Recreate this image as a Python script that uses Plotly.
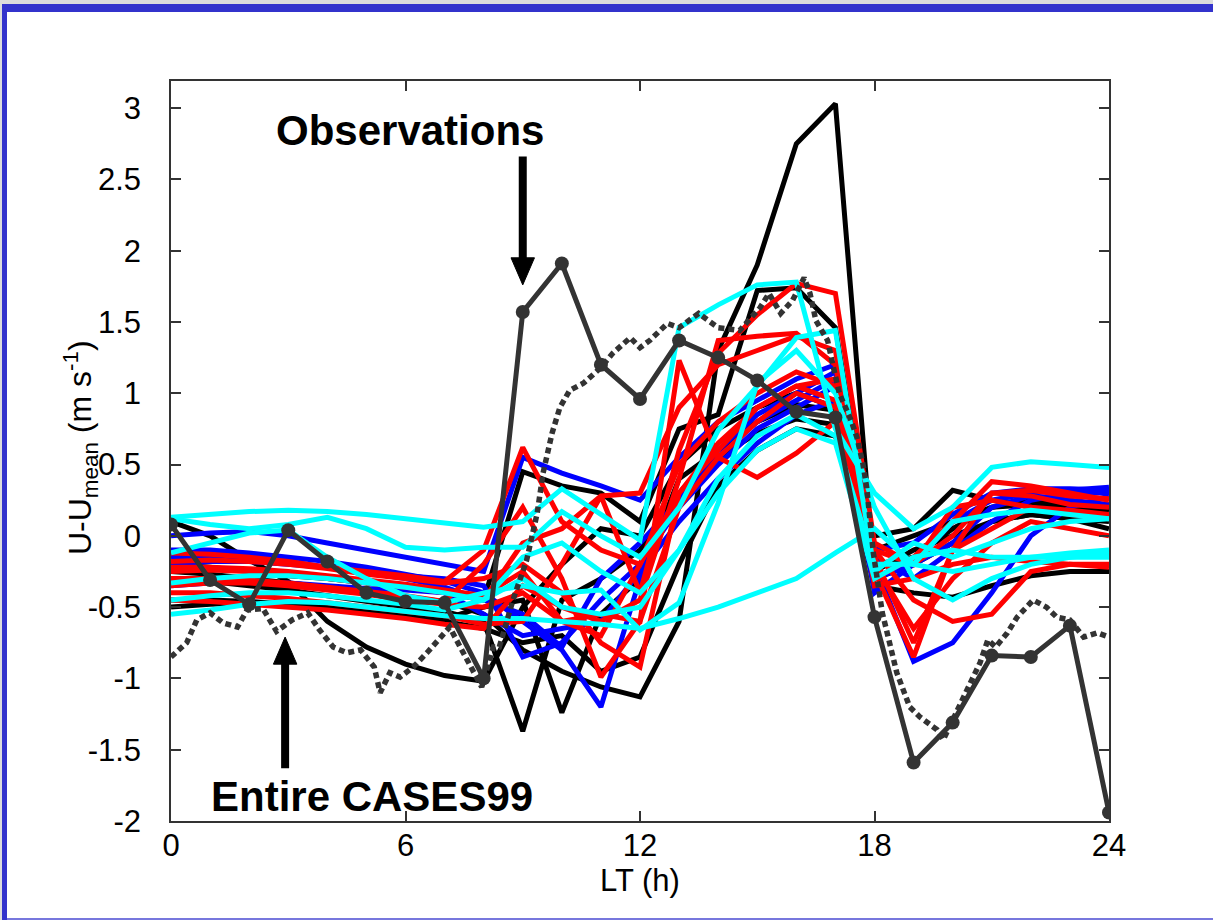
import plotly.graph_objects as go

# Local time (h), hourly
hours = list(range(25))

# Model runs: U - U_mean (m/s), hourly
black_runs = [
    [-0.25,-0.27,-0.30,-0.33,-0.36,-0.40,-0.43,-0.46,-0.55,-0.80,-0.95,-1.06,-1.13,-0.60,1.30,1.90,2.75,3.03,-0.30,-0.20,-0.05,0.10,0.15,0.12,0.05],
    [0.10,0.00,-0.17,-0.32,-0.60,-0.78,-0.90,-0.98,-1.02,-0.50,-0.20,0.05,0.00,0.50,0.75,0.90,1.00,0.90,-0.10,0.00,0.10,0.20,0.22,0.20,0.18],
    [-0.20,-0.22,-0.25,-0.28,-0.30,-0.33,-0.36,-0.40,-0.45,0.45,0.35,0.30,0.10,0.75,0.85,1.72,1.74,1.46,-0.20,-0.15,0.05,0.20,0.25,0.22,0.20],
    [-0.30,-0.32,-0.35,-0.38,-0.42,-0.46,-0.50,-0.53,-0.60,-1.37,-0.45,-0.30,-0.10,0.30,0.55,0.72,0.82,0.78,-0.35,-0.40,-0.43,-0.35,-0.28,-0.25,-0.25],
    [-0.45,-0.45,-0.46,-0.48,-0.50,-0.52,-0.55,-0.58,-0.50,-0.45,-1.24,-0.55,-0.30,0.40,0.60,0.80,0.92,0.88,0.00,0.05,0.32,0.25,0.22,0.20,0.15],
    [-0.50,-0.48,-0.47,-0.48,-0.50,-0.53,-0.56,-0.60,-0.65,-0.75,-0.70,-0.95,-0.85,-0.20,0.35,0.60,0.75,0.70,-0.25,-0.10,0.00,0.10,0.15,0.12,0.10],
]
blue_runs = [
    [0.00,0.02,0.03,0.00,-0.05,-0.10,-0.15,-0.20,-0.25,0.55,0.44,0.35,0.25,0.55,0.80,0.95,1.10,1.20,-0.10,-0.05,0.15,0.30,0.33,0.33,0.32],
    [-0.10,-0.10,-0.12,-0.15,-0.18,-0.22,-0.27,-0.32,-0.40,-0.60,-0.80,-1.20,-0.30,0.30,0.60,0.85,1.00,1.15,-0.20,-0.88,-0.75,-0.40,0.00,0.20,0.28],
    [-0.20,-0.18,-0.18,-0.20,-0.22,-0.25,-0.28,-0.30,-0.35,-0.85,-0.75,-0.45,-0.20,0.20,0.50,0.75,0.90,1.05,-0.15,-0.30,-0.10,0.10,0.25,0.30,0.30],
    [-0.35,-0.33,-0.32,-0.33,-0.35,-0.37,-0.38,-0.40,-0.55,-0.70,-0.65,-0.60,-0.25,0.10,0.40,0.65,0.85,0.95,-0.30,-0.20,-0.05,0.20,0.28,0.25,0.22],
    [-0.15,-0.14,-0.15,-0.18,-0.22,-0.26,-0.30,-0.36,-0.45,-0.55,-0.78,-0.30,-0.05,0.25,0.55,0.80,0.95,1.10,-0.40,-0.20,0.10,0.25,0.30,0.32,0.34],
]
red_runs = [
    [-0.12,-0.13,-0.15,-0.18,-0.22,-0.25,-0.28,-0.32,-0.10,0.62,0.10,-0.10,-0.20,0.50,0.80,1.00,1.15,1.05,-0.25,-0.85,-0.10,0.30,0.28,0.22,0.20],
    [-0.18,-0.17,-0.18,-0.20,-0.23,-0.27,-0.30,-0.33,-0.30,-0.20,-0.40,-0.75,-0.92,0.30,0.60,0.90,1.05,1.10,-0.10,-0.45,-0.60,-0.55,-0.25,-0.20,-0.20],
    [-0.25,-0.24,-0.25,-0.27,-0.30,-0.33,-0.36,-0.40,-0.45,-0.05,0.05,0.28,0.30,0.90,1.20,1.30,1.40,1.30,-0.30,-0.15,0.10,0.38,0.35,0.30,0.25],
    [-0.35,-0.33,-0.33,-0.35,-0.38,-0.41,-0.45,-0.48,-0.50,-0.40,-0.60,-0.55,-0.60,1.23,0.55,0.41,0.58,0.80,-0.20,-0.65,-0.30,-0.05,0.10,0.05,0.00],
    [-0.40,-0.40,-0.42,-0.44,-0.47,-0.50,-0.53,-0.56,-0.62,-0.60,-0.20,0.28,-0.40,0.60,1.28,1.55,1.77,1.70,-0.05,-0.20,0.20,0.25,0.20,0.15,0.12],
    [-0.45,-0.46,-0.48,-0.50,-0.52,-0.55,-0.58,-0.62,-0.65,-0.35,-0.50,-0.60,-0.45,0.40,1.37,1.40,1.42,1.20,-0.35,-0.30,-0.20,-0.15,-0.18,-0.20,-0.22],
    [-0.30,-0.30,-0.31,-0.33,-0.36,-0.39,-0.42,-0.46,-0.20,0.20,-0.30,-0.99,-0.60,0.20,0.55,0.80,1.00,0.90,-0.15,-0.75,-0.10,0.05,0.20,0.18,0.15],
    [-0.22,-0.22,-0.23,-0.25,-0.28,-0.31,-0.34,-0.38,-0.42,-0.25,-0.60,-0.70,-0.20,0.30,0.65,0.90,1.05,0.95,-0.10,-0.20,0.00,0.30,0.32,0.28,0.26],
]
cyan_runs = [
    [0.13,0.15,0.17,0.18,0.17,0.15,0.12,0.09,0.06,0.10,0.33,0.15,-0.03,1.46,1.62,1.76,1.78,0.75,0.30,0.05,0.20,0.48,0.52,0.50,0.48],
    [0.12,0.08,0.05,0.08,0.13,0.05,-0.08,-0.10,-0.08,-0.08,0.17,0.00,-0.15,0.20,0.74,1.05,1.39,1.44,-0.25,-0.05,-0.15,-0.05,0.05,0.10,0.12],
    [-0.12,-0.05,0.02,0.04,-0.15,-0.30,-0.42,-0.47,-0.40,-0.35,-0.40,-0.38,-0.66,-0.47,0.23,1.07,1.30,1.00,0.20,-0.30,-0.45,-0.30,-0.20,-0.15,-0.12],
    [-0.33,-0.30,-0.28,-0.28,-0.30,-0.33,-0.36,-0.40,-0.45,-0.15,-0.05,-0.25,-0.40,-0.10,0.40,0.70,0.85,0.70,-0.20,-0.20,0.10,0.15,0.18,0.15,0.12],
    [-0.55,-0.52,-0.48,-0.46,-0.47,-0.50,-0.53,-0.56,-0.58,-0.58,-0.60,-0.62,-0.65,-0.58,-0.50,-0.40,-0.30,-0.12,0.05,-0.20,-0.25,-0.20,-0.15,-0.12,-0.10],
    [-0.45,-0.42,-0.40,-0.40,-0.42,-0.45,-0.48,-0.52,-0.45,-0.30,-0.50,-0.55,-0.50,-0.10,0.30,0.60,0.75,0.65,-0.30,-0.15,-0.10,-0.15,-0.15,-0.15,-0.15],
]

# Observations (hourly)
obs = [0.08,-0.31,-0.48,0.04,-0.18,-0.40,-0.46,-0.47,-1.00,1.57,1.91,1.20,0.96,1.37,1.25,1.09,0.87,0.83,-0.57,-1.59,-1.31,-0.84,-0.85,-0.63,-1.94]

# Entire CASES99 composite (high resolution)
cases_t = [0.0,0.4,0.66,1.0,1.33,1.7,1.95,2.35,2.7,3.1,3.5,3.8,4.15,4.5,4.85,5.2,5.35,5.6,5.86,6.2,
           6.55,6.9,7.13,7.4,7.73,7.95,8.25,8.4,8.75,9.1,9.37,9.52,9.75,9.95,10.2,10.55,11.0,11.3,11.75,12.0,
           12.25,12.7,13.0,13.5,14.0,14.55,15.07,15.3,15.6,15.9,16.2,16.35,16.5,16.8,16.95,17.1,17.4,17.55,17.7,17.8,
           17.97,18.2,18.57,18.9,19.16,19.6,19.76,20.0,20.36,20.7,20.9,21.1,21.4,21.65,22.06,22.4,22.66,23.0,23.35,23.7,24.0]
cases_u = [-0.85,-0.75,-0.59,-0.54,-0.61,-0.64,-0.52,-0.51,-0.67,-0.59,-0.54,-0.66,-0.78,-0.82,-0.80,-0.92,-1.10,-0.96,-0.99,-0.92,
           -0.82,-0.71,-0.64,-0.78,-0.96,-1.06,-0.78,-0.78,-0.45,-0.17,0.16,0.44,0.72,0.90,1.02,1.07,1.18,1.28,1.39,1.32,
           1.37,1.49,1.46,1.56,1.46,1.44,1.60,1.70,1.56,1.65,1.81,1.70,1.51,1.37,1.18,1.00,0.81,0.69,0.51,0.34,
           -0.12,-0.54,-0.96,-1.20,-1.27,-1.36,-1.43,-1.29,-1.10,-0.89,-0.73,-0.78,-0.68,-0.57,-0.45,-0.50,-0.57,-0.59,-0.71,-0.68,-0.71]

x_ticks = [0, 6, 12, 18, 24]
y_ticks = [-2, -1.5, -1, -0.5, 0, 0.5, 1, 1.5, 2, 2.5, 3]
y_tick_text = ["-2", "-1.5", "-1", "-0.5", "0", "0.5", "1", "1.5", "2", "2.5", "3"]

FONT = "Liberation Sans, Arial, Helvetica, sans-serif"
OBS_COLOR = "#333333"

fig = go.Figure()

for runs, color in [(black_runs, "#000000"), (blue_runs, "#0000ff"),
                    (red_runs, "#ff0000"), (cyan_runs, "#00ffff")]:
    for r in runs:
        fig.add_trace(go.Scatter(x=hours, y=r, mode="lines",
                                 line=dict(color=color, width=5),
                                 showlegend=False, hoverinfo="skip"))

fig.add_trace(go.Scatter(x=cases_t, y=cases_u, mode="lines",
                         line=dict(color=OBS_COLOR, width=5.5, dash="6px,4px"),
                         showlegend=False))
fig.add_trace(go.Scatter(x=hours, y=obs, mode="lines+markers",
                         line=dict(color=OBS_COLOR, width=5),
                         marker=dict(color=OBS_COLOR, size=14, symbol="circle"),
                         showlegend=False))

# Arrows pointing at the two observation curves
arrow_shapes = [
    dict(type="line", x0=9.0, x1=9.0, y0=2.66, y1=1.92,
         line=dict(color="black", width=8)),
    dict(type="path", path="M 8.70,1.95 L 9.30,1.95 L 9.0,1.76 Z",
         fillcolor="black", line=dict(color="black", width=1)),
    dict(type="line", x0=2.92, x1=2.92, y0=-1.63, y1=-0.88,
         line=dict(color="black", width=8)),
    dict(type="path", path="M 2.62,-0.90 L 3.22,-0.90 L 2.92,-0.71 Z",
         fillcolor="black", line=dict(color="black", width=1)),
]

# Slide frame
W, L, R, T, B = 1213, 171, 1109, 81, 821
def px(x):
    return (x - L) / (R - L)
def py(y):
    return (B - y) / (B - T)

frame_shapes = [
    dict(type="rect", xref="paper", yref="paper", x0=px(0), x1=px(W), y0=py(0), y1=py(4),
         fillcolor="#dcdcdc", line=dict(width=0), layer="below"),
    dict(type="rect", xref="paper", yref="paper", x0=px(0), x1=px(2), y0=py(920), y1=py(0),
         fillcolor="#dcdcdc", line=dict(width=0), layer="below"),
    dict(type="rect", xref="paper", yref="paper", x0=px(2), x1=px(W), y0=py(12), y1=py(4),
         fillcolor="#3333cc", line=dict(width=0), layer="below"),
    dict(type="rect", xref="paper", yref="paper", x0=px(2), x1=px(7), y0=py(920), y1=py(4),
         fillcolor="#3333cc", line=dict(width=0), layer="below"),
    dict(type="rect", xref="paper", yref="paper", x0=px(7), x1=px(W), y0=py(920), y1=py(918),
         fillcolor="#7777dd", line=dict(width=0), layer="below"),
]

annotations = [
    dict(text="<b>Observations</b>", x=410, y=130, xref="x", yref="y",
         showarrow=False, font=dict(family=FONT, size=42, color="black")),
    dict(text="<b>Entire CASES99</b>", x=372, y=796, xref="x", yref="y",
         showarrow=False, font=dict(family=FONT, size=42, color="black")),
    dict(text="LT (h)", x=0.5, y=py(880), xref="paper", yref="paper",
         xanchor="center", yanchor="middle",
         showarrow=False, font=dict(family=FONT, size=31, color="black")),
    dict(text="U-U<sub>mean</sub> (m s<sup>-1</sup>)", x=px(80), y=py(448),
         xref="paper", yref="paper", textangle=-90, xanchor="center", yanchor="middle",
         showarrow=False, font=dict(family=FONT, size=32, color="black")),
]
# Place the two callouts from pixel positions into data units
for a in annotations[:2]:
    a["x"] = (a["x"] - L) / (R - L) * 24
    a["y"] = 3.19 - (a["y"] - T) / (B - T) * 5.19
    a["xanchor"] = "center"
    a["yanchor"] = "middle"

axis_common = dict(showline=True, linecolor="#333333", linewidth=1.5, mirror="ticks",
                   ticks="inside", ticklen=10, tickwidth=1.5, tickcolor="#333333",
                   showgrid=False, zeroline=False,
                   tickfont=dict(family=FONT, size=31, color="black"))

fig.update_layout(
    width=W, height=920,
    margin=dict(l=L, r=W - R, t=T, b=920 - B),
    paper_bgcolor="white", plot_bgcolor="white",
    xaxis=dict(range=[0, 24], tickvals=x_ticks, ticklabelstandoff=-4, **axis_common),
    yaxis=dict(range=[-2, 3.19], tickvals=y_ticks, ticktext=y_tick_text,
               ticklabelstandoff=22, **axis_common),
    shapes=frame_shapes + arrow_shapes,
    annotations=annotations,
    showlegend=False,
)

fig.write_html("out.html")
